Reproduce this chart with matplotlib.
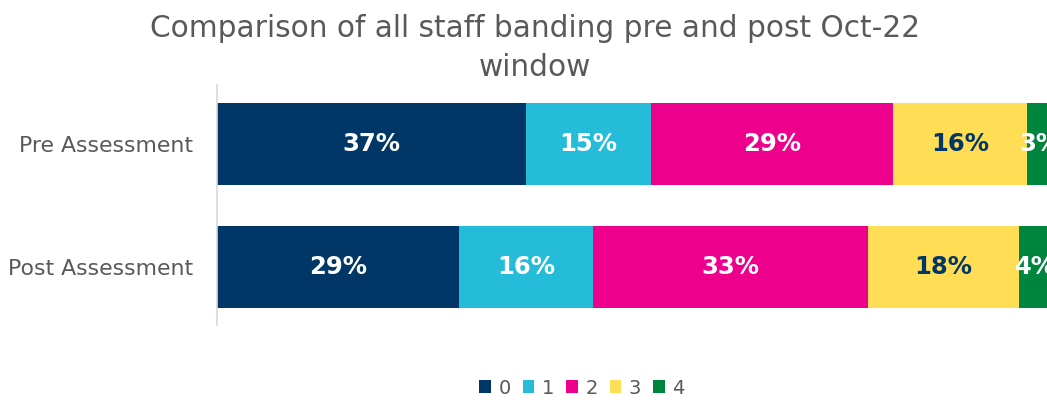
import matplotlib

matplotlib.use("Agg")
import matplotlib.pyplot as plt
from matplotlib.patches import Patch

# Share of staff in each band (%), per assessment
categories = ["Pre Assessment", "Post Assessment"]
bands = ["0", "1", "2", "3", "4"]
band_values = {
    "0": [37, 29],
    "1": [15, 16],
    "2": [29, 33],
    "3": [16, 18],
    "4": [3, 4],
}

_BAND_COLORS = {"0": "#003767", "1": "#25BCD9", "2": "#EC008C", "3": "#FFDE55", "4": "#00853E"}
_LABEL_COLORS = {"0": "white", "1": "white", "2": "white", "3": "#003767", "4": "white"}
_TEXT = "#595959"

fig = plt.figure(figsize=(10.47, 4.01), dpi=100)
# axis runs a little past the right edge, as in the original export
ax = fig.add_axes([217 / 1047, 76 / 401, 835 / 1047, 240 / 401])

ypos = list(range(len(categories)))
left = [0] * len(categories)
for b in bands:
    vals = band_values[b]
    ax.barh(ypos, vals, left=left, height=0.667, color=_BAND_COLORS[b], label=b)
    for y, l, v in zip(ypos, left, vals):
        ax.text(l + v / 2, y, f"{v}%", ha="center", va="center",
                fontsize=17.5, fontweight="bold", color=_LABEL_COLORS[b])
    left = [l + v for l, v in zip(left, vals)]

ax.set_xlim(0, 100)
ax.set_ylim(1.47, -0.48)
ax.set_yticks(ypos)
ax.set_yticklabels(categories, fontsize=15.8, color=_TEXT)
ax.tick_params(axis="y", length=0, pad=17)
ax.set_xticks([])
for name, spine in ax.spines.items():
    spine.set_visible(name == "left")
ax.spines["left"].set_color("#d9d9d9")
ax.spines["left"].set_linewidth(1.2)

fig.text(535 / 1047, 1 - 48 / 401, "Comparison of all staff banding pre and post Oct-22\nwindow",
         ha="center", va="center", fontsize=21.3, color=_TEXT, linespacing=1.45)

handles = [Patch(facecolor=_BAND_COLORS[b], label=b) for b in bands]
fig.legend(handles=handles, loc="center", bbox_to_anchor=(582 / 1047, 1 - 388 / 401),
           ncol=5, frameon=False, fontsize=14, labelcolor=_TEXT,
           handlelength=0.6, handleheight=0.6, handletextpad=0.4, columnspacing=0.6)

fig.savefig("out.png", dpi=100)
